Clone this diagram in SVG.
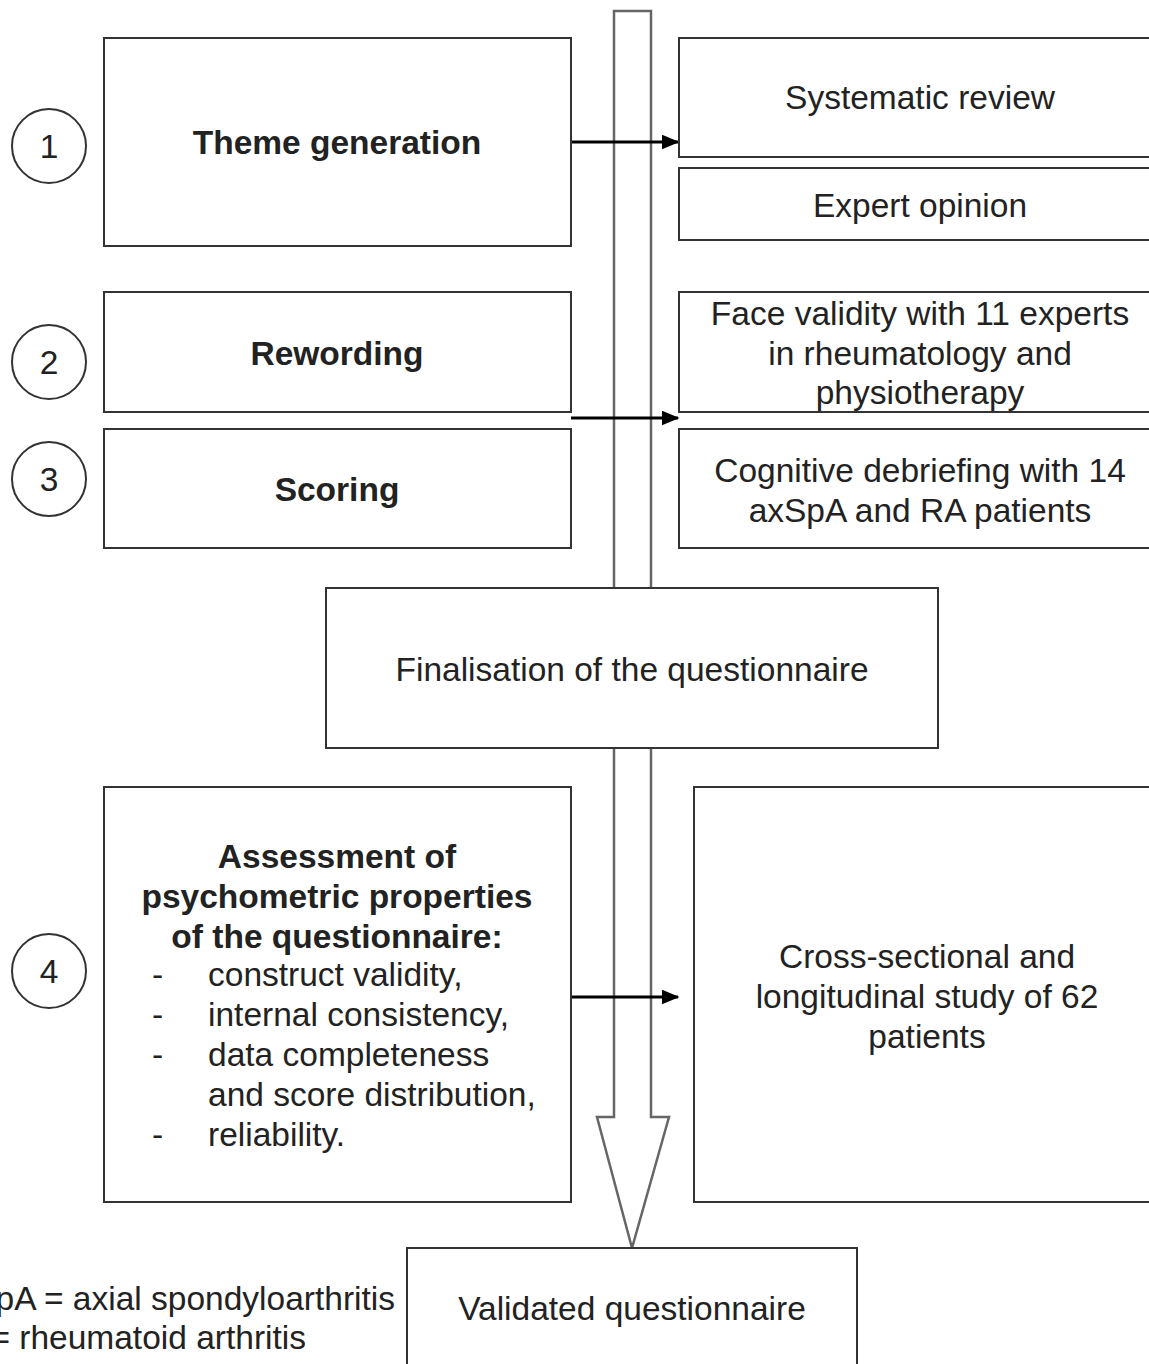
<svg xmlns="http://www.w3.org/2000/svg" width="1149" height="1364" viewBox="0 0 1149 1364">
<defs>
<style>
.box{fill:#fff;stroke:#333;stroke-width:2}
.num{fill:#fff;stroke:#333;stroke-width:2}
.t{font-family:"Liberation Sans",Arial,sans-serif;font-size:33.5px;fill:#222}
.c{text-anchor:middle}
.e{text-anchor:end}
.b{font-weight:bold}
.link{stroke:#000;stroke-width:3;fill:none;marker-end:url(#ah)}
</style>
<marker id="ah" markerWidth="6" markerHeight="5" refX="5.5" refY="2.5" orient="auto" markerUnits="strokeWidth">
<path d="M0,0 L6,2.5 L0,5 z" fill="#000"/>
</marker>
</defs>
<rect width="1149" height="1364" fill="#fff"/>
<g id="bigArrow">
<path d="M614,11 L651,11 L651,1117 L669,1117 L632,1248 L597,1117 L614,1117 Z" fill="#fff" stroke="#666" stroke-width="2.5"/>
</g>
<g id="connectors">
<line class="link" x1="571" y1="142" x2="678" y2="142"/>
<line class="link" x1="571" y1="418" x2="678" y2="418"/>
<line class="link" x1="571" y1="997" x2="678" y2="997"/>
</g>
<g id="n1"><circle class="num" cx="49" cy="146" r="37"/><text class="t c" x="49" y="158">1</text></g>
<g id="n2"><circle class="num" cx="49" cy="362" r="37"/><text class="t c" x="49" y="374">2</text></g>
<g id="n3"><circle class="num" cx="49" cy="479" r="37"/><text class="t c" x="49" y="491">3</text></g>
<g id="n4"><circle class="num" cx="49" cy="971" r="37"/><text class="t c" x="49" y="983">4</text></g>
<g id="theme"><rect class="box" x="104" y="38" width="467" height="208"/><text class="t c b" x="337" y="154">Theme generation</text></g>
<g id="sysrev"><rect class="box" x="679" y="38" width="480" height="119"/><text class="t c" x="920" y="109">Systematic review</text></g>
<g id="expert"><rect class="box" x="679" y="168" width="480" height="72"/><text class="t c" x="920" y="217">Expert opinion</text></g>
<g id="reword"><rect class="box" x="104" y="292" width="467" height="120"/><text class="t c b" x="337" y="365">Rewording</text></g>
<g id="face"><rect class="box" x="679" y="292" width="480" height="120"/><text class="t c" x="920" y="325">Face validity with 11 experts</text><text class="t c" x="920" y="365">in rheumatology and</text><text class="t c" x="920" y="404">physiotherapy</text></g>
<g id="scoring"><rect class="box" x="104" y="429" width="467" height="119"/><text class="t c b" x="337" y="501">Scoring</text></g>
<g id="cognitive"><rect class="box" x="679" y="429" width="480" height="119"/><text class="t c" x="920" y="482">Cognitive debriefing with 14</text><text class="t c" x="920" y="522">axSpA and RA patients</text></g>
<g id="final"><rect class="box" x="326" y="588" width="612" height="160"/><text class="t c" x="632" y="681">Finalisation of the questionnaire</text></g>
<g id="assess"><rect class="box" x="104" y="787" width="467" height="415"/>
<text class="t c b" x="337" y="868">Assessment of</text>
<text class="t c b" x="337" y="908">psychometric properties</text>
<text class="t c b" x="337" y="948">of the questionnaire:</text>
<text class="t" x="152" y="986">-</text><text class="t" x="208" y="986">construct validity,</text>
<text class="t" x="152" y="1026">-</text><text class="t" x="208" y="1026">internal consistency,</text>
<text class="t" x="152" y="1066">-</text><text class="t" x="208" y="1066">data completeness</text>
<text class="t" x="208" y="1106">and score distribution,</text>
<text class="t" x="152" y="1146">-</text><text class="t" x="208" y="1146">reliability.</text>
</g>
<g id="cross"><rect class="box" x="694" y="787" width="465" height="415"/><text class="t c" x="927" y="968">Cross-sectional and</text><text class="t c" x="927" y="1008">longitudinal study of 62</text><text class="t c" x="927" y="1048">patients</text></g>
<g id="validated"><rect class="box" x="407" y="1248" width="450" height="130"/><text class="t c" x="632" y="1320">Validated questionnaire</text></g>
<g id="legend"><text class="t e" x="395" y="1310">axSpA = axial spondyloarthritis</text><text class="t e" x="306" y="1349">RA = rheumatoid arthritis</text></g>
</svg>
